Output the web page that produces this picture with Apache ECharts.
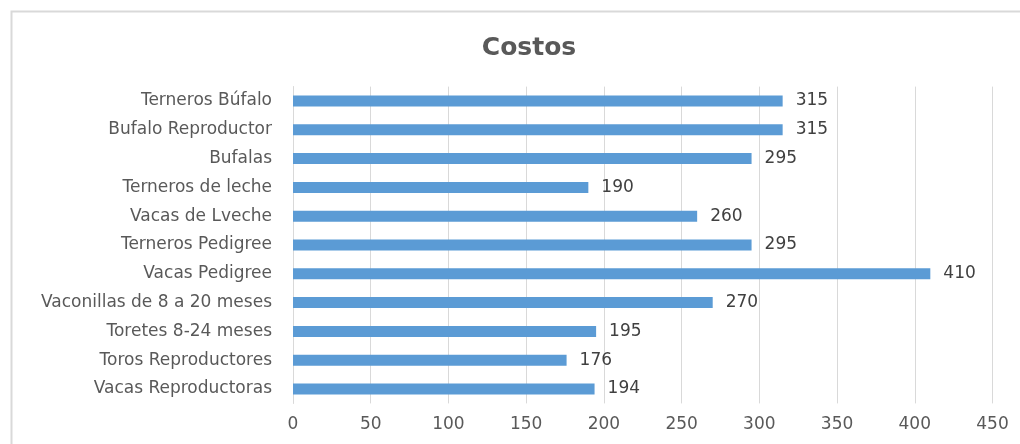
<!DOCTYPE html>
<html><head><meta charset="utf-8">
<script src="https://cdn.jsdelivr.net/npm/echarts@6/dist/echarts.min.js"></script>
<style>html,body{margin:0;padding:0;background:#fff}#c{width:1020px;height:444px}</style>
</head><body><div id="c"></div>
<script>
const categories = ["Vacas Reproductoras","Toros Reproductores","Toretes 8-24 meses","Vaconillas de 8 a 20 meses","Vacas Pedigree","Terneros Pedigree","Vacas de Lveche","Terneros de leche","Bufalas","Bufalo Reproductor","Terneros Búfalo"];
const costos = [194,176,195,270,410,295,260,190,295,315,315];
const title = "Costos";
const font = "DejaVu Sans";
const chart = echarts.init(document.getElementById('c'), null, {renderer:'canvas'});
chart.setOption({
  animation:false,
  backgroundColor:'#fff',
  title:{text:title,left:524,top:31,textAlign:'center',textStyle:{fontFamily:font,fontSize:25,fontWeight:'bold',color:'#595959'}},
  graphic:[{type:'rect',shape:{x:11.5,y:11.5,width:1100,height:1000},style:{fill:'none',stroke:'#d9d9d9',lineWidth:2},silent:true}],
  grid:{left:293,right:27.5,top:86.6,bottom:40.6,containLabel:false},
  xAxis:{type:'value',min:0,max:450,interval:50,
    axisLine:{show:false},axisTick:{show:false},
    splitLine:{lineStyle:{color:'#d9d9d9',width:1}},
    axisLabel:{fontFamily:font,fontSize:17,color:'#595959',margin:13}},
  yAxis:{type:'category',data:categories,
    axisLine:{show:true,lineStyle:{color:'#d9d9d9'}},axisTick:{show:false},
    axisLabel:{fontFamily:font,fontSize:17,color:'#595959',margin:21}},
  series:[{type:'bar',data:costos,barWidth:11,itemStyle:{color:'#5b9bd5'},
    label:{show:true,position:'right',distance:13,fontFamily:font,fontSize:17,color:'#404040'}}]
});
</script></body></html>
